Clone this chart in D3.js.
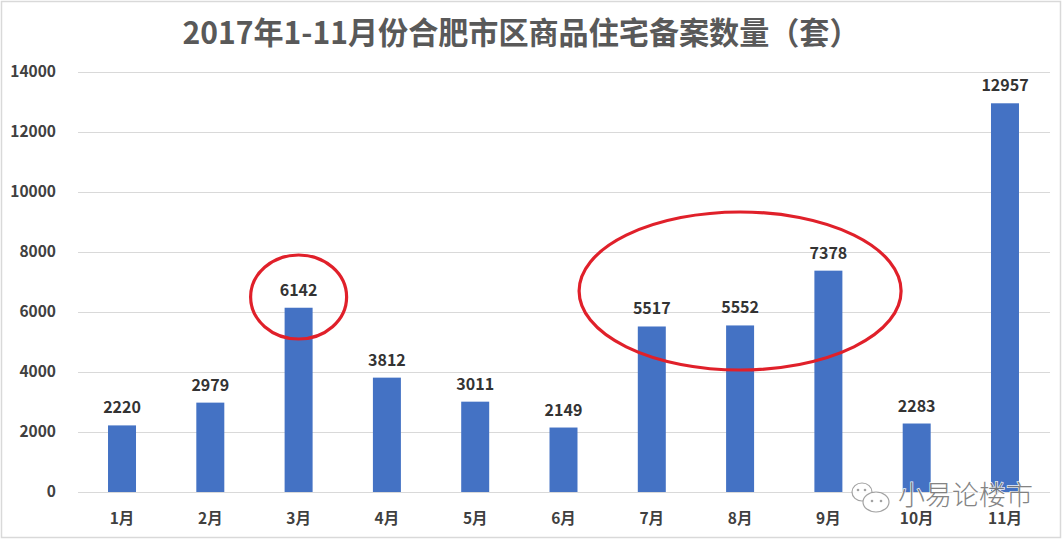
<!DOCTYPE html>
<html><head><meta charset="utf-8">
<script src="https://cdn.jsdelivr.net/npm/d3@7/dist/d3.min.js"></script>
<style>body{margin:0;background:#fff}svg{display:block}</style>
</head><body>
<svg id="c" width="1064" height="546"></svg>
<script>
const title = "2017年1-11月份合肥市区商品住宅备案数量（套）";
const categories = ["1月","2月","3月","4月","5月","6月","7月","8月","9月","10月","11月"];
const values = [2220,2979,6142,3812,3011,2149,5517,5552,7378,2283,12957];
const yTicks = [0,2000,4000,6000,8000,10000,12000,14000];
const watermark = "小易论楼市";

const svg = d3.select("#c");
svg.append("rect").attr("x",1.5).attr("y",1.5).attr("width",1059).attr("height",536)
  .attr("fill","#fff").attr("stroke","#d9d9d9").attr("stroke-width",1.5);

const x = d3.scaleBand().domain(categories).range([78,1049]).paddingInner(0.683).paddingOuter(0.34);
const y = d3.scaleLinear().domain([0,14000]).range([492,72]);
const font = "'Noto Sans CJK SC','Noto Sans',sans-serif";

svg.append("text").attr("x",521).attr("y",44).attr("text-anchor","middle")
  .attr("font-family",font).attr("font-weight","bold").attr("font-size",31)
  .attr("textLength",677).attr("lengthAdjust","spacingAndGlyphs")
  .attr("fill","#595959").text(title);

const yAxis = d3.axisLeft(y).tickValues(yTicks).tickSize(-(1050-78)).tickFormat(d3.format("d"));
const g = svg.append("g").attr("transform","translate(78,0)").call(yAxis);
g.select(".domain").remove();
g.selectAll(".tick line").attr("stroke","#d9d9d9").attr("stroke-width",1);
g.selectAll(".tick text").attr("x",-22).attr("font-family",font).attr("font-weight","bold")
  .attr("font-size",15.5).attr("fill","#404040");

const xAxis = d3.axisBottom(x).tickSize(0);
const gx = svg.append("g").attr("transform","translate(0,492)").call(xAxis);
gx.select(".domain").remove();
gx.selectAll(".tick text").attr("dy",0).attr("y",32).attr("font-family",font).attr("font-weight","bold")
  .attr("font-size",15.5).attr("fill","#404040");

svg.selectAll(".bar").data(values).enter().append("rect")
  .attr("x",(d,i)=>x(categories[i])).attr("width",x.bandwidth())
  .attr("y",d=>y(d)).attr("height",d=>y(0)-y(d)).attr("fill","#4472C4");

svg.selectAll(".lbl").data(values).enter().append("text")
  .attr("x",(d,i)=>x(categories[i])+x.bandwidth()/2).attr("y",d=>y(d)-12)
  .attr("text-anchor","middle").attr("font-family",font).attr("font-weight","bold")
  .attr("font-size",16).attr("fill","#333").text(d=>d);

const cx = c=>x(c)+x.bandwidth()/2;
svg.append("ellipse").attr("cx",cx("3月")).attr("cy",y(6500)).attr("rx",48).attr("ry",42)
  .attr("fill","none").attr("stroke","#E0202A").attr("stroke-width",3.2);
svg.append("ellipse").attr("cx",(cx("7月")+cx("9月"))/2).attr("cy",y(6700)).attr("rx",161).attr("ry",79)
  .attr("fill","none").attr("stroke","#E0202A").attr("stroke-width",3.2);

const wm = svg.append("g").attr("opacity",0.9);
wm.append("ellipse").attr("cx",862).attr("cy",492).attr("rx",10).attr("ry",9).attr("fill","#fff").attr("stroke","#999").attr("stroke-width",1.2);
wm.append("ellipse").attr("cx",876).attr("cy",502).attr("rx",13).attr("ry",10).attr("fill","#fff").attr("stroke","#999").attr("stroke-width",1.2);
[[858,490],[865,490],[872,501],[881,501]].forEach(p=>wm.append("circle").attr("cx",p[0]).attr("cy",p[1]).attr("r",1.3).attr("fill","#999"));
wm.append("text").attr("x",898).attr("y",505).attr("font-family",font).attr("font-size",27)
  .attr("fill","#777").attr("stroke","#fff").attr("stroke-width",1.5).attr("paint-order","stroke")
  .attr("font-weight","300").text(watermark);
</script>
</body></html>
